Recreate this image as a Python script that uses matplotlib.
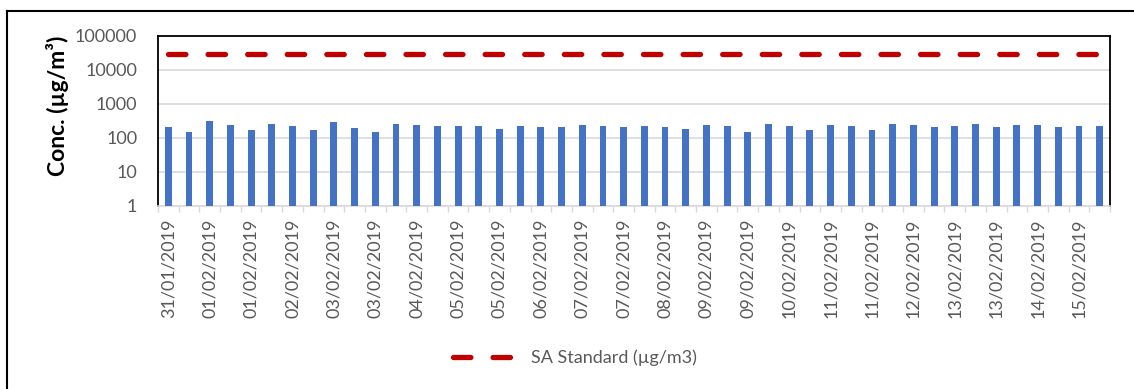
import matplotlib
matplotlib.use("Agg")
import matplotlib.pyplot as plt
from matplotlib.lines import Line2D
import numpy as np

# tick labels shown (every second sample)
date_labels = ["31/01/2019", "01/02/2019", "01/02/2019", "02/02/2019", "03/02/2019",
               "03/02/2019", "04/02/2019", "05/02/2019", "05/02/2019", "06/02/2019",
               "07/02/2019", "07/02/2019", "08/02/2019", "09/02/2019", "09/02/2019",
               "10/02/2019", "11/02/2019", "11/02/2019", "12/02/2019", "13/02/2019",
               "13/02/2019", "14/02/2019", "15/02/2019"]

# measured concentrations (ug/m3), one per sample
conc = [210, 153, 307, 240, 168, 263, 230, 168, 288, 196, 153, 263,
        240, 224, 224, 224, 179, 224, 210, 210, 240, 224, 210, 224,
        210, 179, 240, 224, 153, 263, 224, 168, 240, 224, 168, 263,
        240, 210, 224, 263, 210, 240, 240, 210, 224, 224]

sa_standard = 30000

plt.rcParams['font.family'] = ['Lato', 'DejaVu Sans']

fig = plt.figure(figsize=(11.34, 3.89), dpi=100)
ax = fig.add_axes([158/1134, 1 - 206/389, 952/1134, 170/389])

x = np.arange(len(conc))
ax.bar(x, conc, width=0.33, color="#4472C4", zorder=3)
ax.plot(x, [sa_standard]*len(conc), color="#C00000", lw=3.8,
        linestyle=(0, (3.3, 4.2)), dash_capstyle="round", zorder=4,
        label="SA Standard (\u00b5g/m3)")

ax.set_yscale("log")
ax.set_ylim(1, 100000)
ax.set_yticks([1, 10, 100, 1000, 10000, 100000])
ax.set_yticklabels(["1", "10", "100", "1000", "10000", "100000"])
ax.yaxis.set_minor_locator(matplotlib.ticker.NullLocator())
ax.grid(axis="y", color="#d9d9d9", lw=1.2, zorder=0)

ax.set_xlim(-0.5, len(conc) - 0.5)
ax.set_xticks(np.arange(0, len(conc), 2))
ax.set_xticklabels(date_labels, rotation=90)
ax.set_xticks(np.arange(-0.5, len(conc), 1), minor=True)
ax.tick_params(axis="x", which="major", length=0, pad=9, labelsize=13, labelcolor="#595959")
ax.tick_params(axis="x", which="minor", length=4, width=1, color="#d9d9d9")
ax.tick_params(axis="y", length=0, pad=15, labelsize=13, labelcolor="#595959")

for s in ["left", "top", "right"]:
    ax.spines[s].set_color("black")
    ax.spines[s].set_linewidth(1.3)
ax.spines["bottom"].set_color("#d9d9d9")
ax.spines["bottom"].set_linewidth(1.2)

ax.set_ylabel("Conc. (\u00b5g/m\u00b3)", fontsize=16.5, fontweight="bold")
ax.yaxis.set_label_coords(-0.093, 0.59)

fig.legend(loc="center", bbox_to_anchor=(575/1134, 1 - 358/389), frameon=False,
           fontsize=13, labelcolor="#595959", handlelength=3.5)

# outer chart frame
fig.add_artist(Line2D([7/1134, 1], [1 - 11/389, 1 - 11/389], color="black", lw=1.5,
                      transform=fig.transFigure))
fig.add_artist(Line2D([7/1134, 7/1134], [0, 1 - 11/389], color="black", lw=1.5,
                      transform=fig.transFigure))

fig.savefig("out.png", dpi=100)
